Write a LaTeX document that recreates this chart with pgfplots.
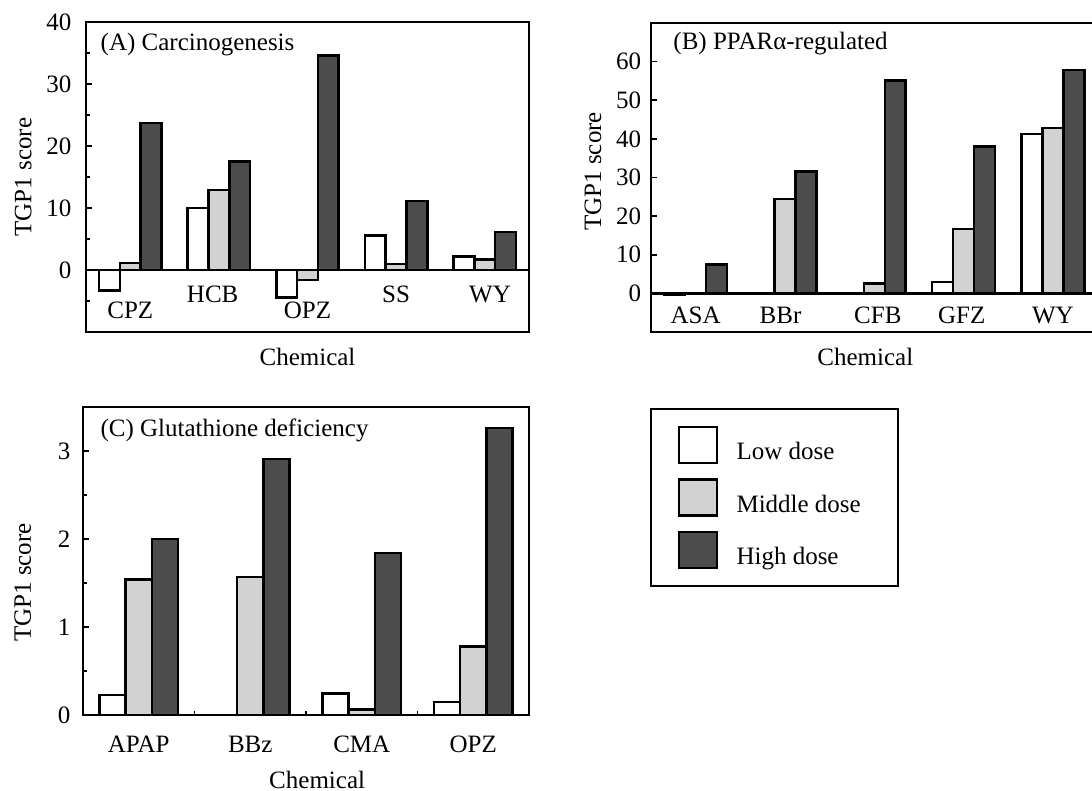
\documentclass[border=0pt]{standalone}
\usepackage{fontspec}
\setmainfont{Liberation Serif}
\usepackage{pgfplots}
\pgfplotsset{compat=1.18}

\tikzset{catlabel/.style={font=\fontsize{9}{10.8}\selectfont}}
\pgfplotsset{
  tgp/.style={
    scale only axis, anchor=south west,
    axis line style={line width=0.8pt},
    tick pos=left, tick align=inside,
    major tick length=2pt, minor tick length=1.5pt,
    tick style={black, line width=0.6pt},
    /pgf/number format/assume math mode=true,
    font=\fontsize{9}{10.8}\selectfont,
    ylabel={TGP1 score}, xlabel={Chemical},
    xlabel style={anchor=center},
    ylabel style={anchor=center},
  },
  zeroline/.style={
    extra y ticks={0}, extra y tick labels={},
    extra y tick style={grid=major, major grid style={black, line width=0.8pt}, major tick length=0pt},
  },
  sq/.style={legend image code/.code={\draw[##1] (0pt,-3.5pt) rectangle (13.7pt,9.5pt);}},
  lowbar/.style={ybar, bar width=0.235, bar shift=-0.235, draw=black, line width=0.9pt, fill=white, sq},
  midbar/.style={ybar, bar width=0.235, bar shift=0, draw=black, line width=0.9pt, fill=gray!35, sq},
  highbar/.style={ybar, bar width=0.235, bar shift=0.235, draw=black, line width=0.9pt, fill=black!70, sq},
}

\begin{document}
\begin{tikzpicture}[font=\fontsize{9}{10.8}\selectfont]

% (A)
\begin{axis}[tgp, zeroline,
  at={(30.96pt,-119.52pt)}, width=159.48pt, height=111.6pt,
  xmin=-0.5, xmax=4.5, ymin=-10, ymax=40,
  xtick=\empty, ytick={0,10,20,30,40}, minor ytick={-5,5,15,25,35},
  yticklabel style={xshift=-1.7pt},
  ylabel style={at={(axis description cs:-0.142,0.5)}},
  xlabel style={at={(axis description cs:0.5,-0.081)}},
]
\addplot[lowbar] coordinates {(0,-3.3) (1,10.0) (2,-4.4) (3,5.6) (4,2.2)};
\addplot[midbar] coordinates {(0,1.1) (1,12.9) (2,-1.6) (3,1.0) (4,1.7)};
\addplot[highbar] coordinates {(0,23.7) (1,17.5) (2,34.6) (3,11.1) (4,6.1)};
\node[catlabel] at (axis cs:0,-6.45) {CPZ};
\node[catlabel] at (axis cs:0.93,-4.0) {HCB};
\node[catlabel] at (axis cs:2,-6.45) {OPZ};
\node[catlabel] at (axis cs:3,-4.0) {SS};
\node[catlabel] at (axis cs:4.06,-4.0) {WY};
\node[anchor=west, inner sep=0pt] at (rel axis cs:0.032,0.926) {(A) Carcinogenesis};
\end{axis}

% (B)
\begin{axis}[tgp, zeroline,
  at={(234.36pt,-119.52pt)}, width=160.74pt, height=111.24pt,
  xmin=-0.5, xmax=4.5, ymin=-10, ymax=70,
  xtick=\empty, ytick={0,10,20,30,40,50,60},
  ylabel style={at={(axis description cs:-0.13,0.52)}},
  xlabel style={at={(axis description cs:0.48,-0.081)}},
]
\addplot[lowbar] coordinates {(0,-0.3) (1,0) (2,0) (3,2.9) (4,41.3)};
\addplot[midbar] coordinates {(0,0) (1,24.4) (2,2.6) (3,16.7) (4,42.8)};
\addplot[highbar] coordinates {(0,7.5) (1,31.5) (2,55.1) (3,38.0) (4,57.9)};
\node[catlabel] at (axis cs:0,-5.7) {ASA};
\node[catlabel] at (axis cs:0.95,-5.7) {BBr};
\node[catlabel] at (axis cs:2.04,-5.7) {CFB};
\node[catlabel] at (axis cs:2.98,-5.7) {GFZ};
\node[catlabel] at (axis cs:4.0,-5.7) {WY};
\node[anchor=west, inner sep=0pt] at (rel axis cs:0.049,0.935) {(B) PPARα-regulated};
\end{axis}

% (C)
\begin{axis}[tgp,
  at={(29.88pt,-257.4pt)}, width=160.56pt, height=110.88pt,
  xmin=-0.5, xmax=3.5, ymin=0, ymax=3.5,
  xtick={0,1,2,3}, xticklabels={APAP,BBz,CMA,OPZ},
  minor xtick={0.5,1.5,2.5},
  major x tick style={draw=none},
  xticklabel style={yshift=-4pt},
  ytick={0,1,2,3}, minor ytick={0.5,1.5,2.5},
  yticklabel style={xshift=-1pt},
  ylabel style={at={(axis description cs:-0.135,0.43)}},
  xlabel style={at={(axis description cs:0.525,-0.211)}},
  legend style={at={(axis description cs:1.271,0.997)}, anchor=north west,
    draw=black, line width=0.8pt, inner xsep=9.7pt, inner ysep=6pt,
    row sep=5pt, nodes={inner sep=0pt},
    /tikz/every odd column/.append style={column sep=6.5pt}},
  legend cell align=left,
]
\addplot[lowbar] coordinates {(0,0.23) (1,0) (2,0.245) (3,0.15)};
\addplot[midbar] coordinates {(0,1.54) (1,1.57) (2,0.06) (3,0.78)};
\addplot[highbar] coordinates {(0,2.0) (1,2.91) (2,1.84) (3,3.26)};
\legend{Low dose, Middle dose\rule{3.6pt}{0pt}, High dose}
\node[anchor=west, inner sep=0pt] at (rel axis cs:0.038,0.925) {(C) Glutathione deficiency};
\end{axis}

\pgfresetboundingbox
\useasboundingbox (0pt,0pt) rectangle (393.12pt,-284.4pt);
\end{tikzpicture}
\end{document}
